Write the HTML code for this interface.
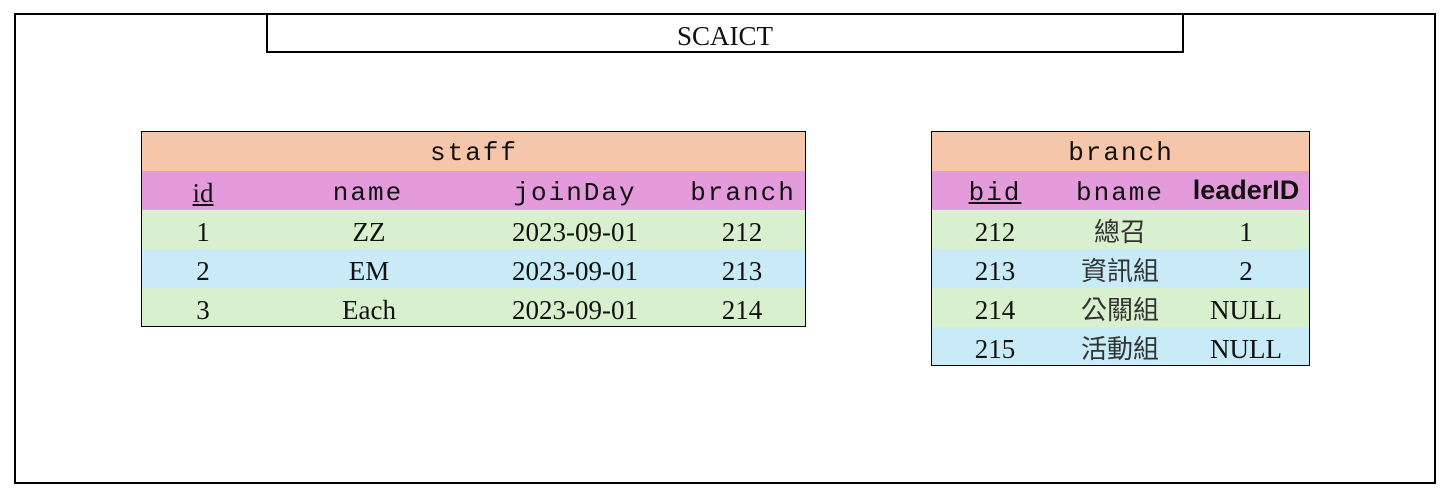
<!DOCTYPE html>
<html><head><meta charset="utf-8"><style>
body{margin:0;width:1441px;height:503px;background:#fff;position:relative;overflow:hidden;font-family:"Liberation Serif","Noto Serif CJK SC",serif;color:#111}
.b{position:absolute;box-sizing:border-box}
.t{position:absolute;transform:translateX(-50%);white-space:nowrap;font-size:27px;line-height:39px}
.h{letter-spacing:2px;font-family:"Liberation Mono",monospace;font-size:26px}
</style></head><body>
<div class="b" style="left:14px;top:13px;width:1422px;height:471px;border:2px solid #000"></div>
<div class="b" style="left:266px;top:13px;width:918px;height:40px;border:2px solid #000;border-top:none;text-align:center;font-size:27px;line-height:46px">SCAICT</div>

<div class="b" style="left:141px;top:131px;width:665px;height:196px;border:1px solid #000;overflow:hidden">
 <div style="height:39px;background:#f5c6a9"></div>
 <div style="height:39px;background:#e39bdb"></div>
 <div style="height:39px;background:#d9f0cf"></div>
 <div style="height:39px;background:#c9ebf8"></div>
 <div style="height:39px;background:#d9f0cf"></div>
</div>
<div class="t h" style="left:474px;top:134px">staff</div>
<div class="t" style="left:203px;top:174px;text-decoration:underline">id</div>
<div class="t h" style="left:368px;top:174px">name</div>
<div class="t h" style="left:575px;top:174px">joinDay</div>
<div class="t h" style="left:743px;top:174px">branch</div>
<div class="t" style="left:203px;top:213px">1</div><div class="t" style="left:369px;top:213px">ZZ</div><div class="t" style="left:575px;top:213px">2023-09-01</div><div class="t" style="left:742px;top:213px">212</div>
<div class="t" style="left:203px;top:252px">2</div><div class="t" style="left:369px;top:252px">EM</div><div class="t" style="left:575px;top:252px">2023-09-01</div><div class="t" style="left:742px;top:252px">213</div>
<div class="t" style="left:203px;top:291px">3</div><div class="t" style="left:369px;top:291px">Each</div><div class="t" style="left:575px;top:291px">2023-09-01</div><div class="t" style="left:742px;top:291px">214</div>

<div class="b" style="left:931px;top:131px;width:379px;height:235px;border:1px solid #000;overflow:hidden">
 <div style="height:39px;background:#f5c6a9"></div>
 <div style="height:39px;background:#e39bdb"></div>
 <div style="height:39px;background:#d9f0cf"></div>
 <div style="height:39px;background:#c9ebf8"></div>
 <div style="height:39px;background:#d9f0cf"></div>
 <div style="height:39px;background:#c9ebf8"></div>
</div>
<div class="t h" style="left:1121px;top:134px">branch</div>
<div class="t h" style="left:995px;top:174px;text-decoration:underline">bid</div>
<div class="t h" style="left:1120px;top:174px">bname</div>
<div class="t" style="left:1246px;top:171px;font-family:'Liberation Sans',sans-serif;font-weight:bold;font-size:27px">leaderID</div>
<div class="t" style="left:995px;top:213px">212</div><div class="t" style="left:1120px;top:213px;font-family:'Liberation Serif','Noto Sans CJK TC',sans-serif;color:#333;font-size:26px">總召</div><div class="t" style="left:1246px;top:213px">1</div>
<div class="t" style="left:995px;top:252px">213</div><div class="t" style="left:1120px;top:252px;font-family:'Liberation Serif','Noto Sans CJK TC',sans-serif;color:#333;font-size:26px">資訊組</div><div class="t" style="left:1246px;top:252px">2</div>
<div class="t" style="left:995px;top:291px">214</div><div class="t" style="left:1120px;top:291px;font-family:'Liberation Serif','Noto Sans CJK TC',sans-serif;color:#333;font-size:26px">公關組</div><div class="t" style="left:1246px;top:291px">NULL</div>
<div class="t" style="left:995px;top:330px">215</div><div class="t" style="left:1120px;top:330px;font-family:'Liberation Serif','Noto Sans CJK TC',sans-serif;color:#333;font-size:26px">活動組</div><div class="t" style="left:1246px;top:330px">NULL</div>
</body></html>
